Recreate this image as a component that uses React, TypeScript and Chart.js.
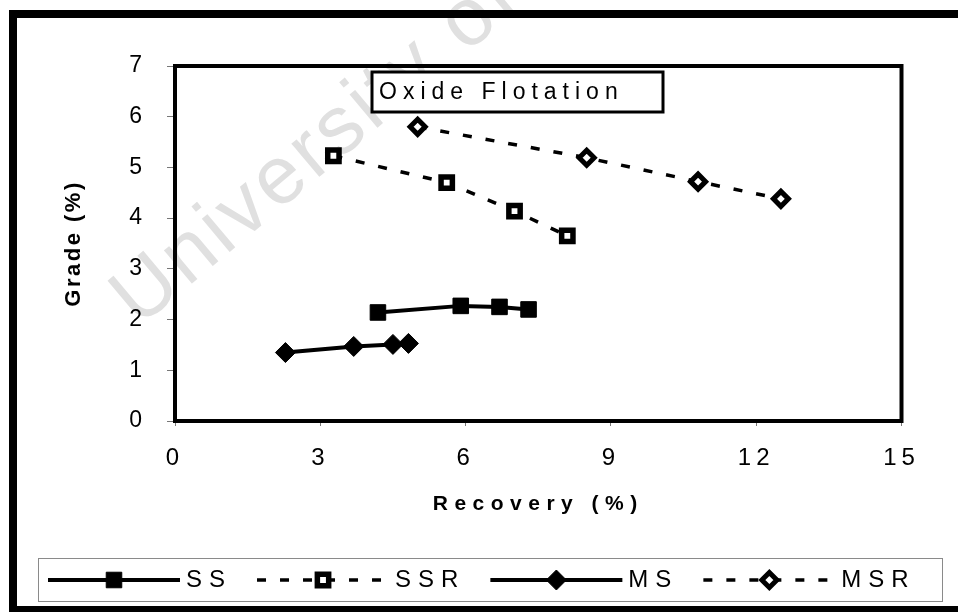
import { useEffect, useRef } from 'react';
import { Chart, registerables } from 'chart.js';
import { drawPoint } from 'chart.js/helpers';

Chart.register(...registerables);

// Oxide flotation: grade vs recovery for the four reagent schemes
const seriesLabels = ['SS', 'SSR', 'MS', 'MSR'];

const ssRecovery = [4.19, 5.9, 6.7, 7.3];
const ssGrade = [2.14, 2.27, 2.25, 2.2];

const ssrRecovery = [3.27, 5.61, 7.01, 8.1];
const ssrGrade = [5.23, 4.7, 4.14, 3.65];

const msRecovery = [2.28, 3.69, 4.5, 4.82];
const msGrade = [1.35, 1.47, 1.51, 1.53];

const msrRecovery = [5.01, 8.5, 10.8, 12.51];
const msrGrade = [5.8, 5.19, 4.72, 4.38];

const recoveryTicks = [0, 3, 6, 9, 12, 15];
const gradeTicks = [0, 1, 2, 3, 4, 5, 6, 7];

const chartTitle = 'Oxide Flotation';
const xTitle = 'Recovery (%)';
const yTitle = 'Grade (%)';
const watermark = 'University of Cape Town';

const FONT = "'Liberation Sans', Arial, sans-serif";

const recoveries = [ssRecovery, ssrRecovery, msRecovery, msrRecovery];
const grades = [ssGrade, ssrGrade, msGrade, msrGrade];

const seriesStyles = [
  { dash: [] as number[], width: 4, point: 'rect', radius: 11, fill: '#000', pointBorder: 1 },
  { dash: [9, 14], width: 3.5, point: 'rect', radius: 8, fill: '#fff', pointBorder: 5.5 },
  { dash: [] as number[], width: 4, point: 'rectRot', radius: 10, fill: '#000', pointBorder: 1 },
  { dash: [9, 14], width: 3.5, point: 'rectRot', radius: 7.5, fill: '#fff', pointBorder: 5 },
];

// Wrap a scale drawing method so its text is drawn with extra letter spacing
function withSpacing(scale: any, method: string, spacing: string) {
  if (!scale) return;
  const flag = '__spaced_' + method;
  if (scale[flag]) return;
  const original = scale[method];
  scale[method] = function (...args: any[]) {
    const c = this.ctx;
    c.save();
    c.letterSpacing = spacing;
    original.apply(this, args);
    c.restore();
  };
  scale[flag] = true;
}

const spacedScaleText = {
  id: 'spacedScaleText',
  beforeDraw(chart: any) {
    withSpacing(chart.scales.x, 'drawLabels', '5px');
    withSpacing(chart.scales.x, 'drawTitle', '6.5px');
    withSpacing(chart.scales.y, 'drawTitle', '2.5px');
  },
};

const watermarkPlugin = {
  id: 'watermark',
  beforeDraw(chart: any) {
    const { ctx } = chart;
    ctx.save();
    ctx.translate(139, 328);
    ctx.rotate((-40 * Math.PI) / 180);
    ctx.font = `82px ${FONT}`;
    ctx.letterSpacing = '4px';
    ctx.fillStyle = '#e0e0e0';
    ctx.textBaseline = 'alphabetic';
    ctx.textAlign = 'left';
    ctx.fillText(watermark, 0, 0);
    ctx.restore();
  },
};

const plotFrame = {
  id: 'plotFrame',
  beforeDatasetsDraw(chart: any) {
    const { ctx, chartArea: a } = chart;
    ctx.save();
    ctx.strokeStyle = '#000';
    ctx.lineWidth = 4;
    ctx.strokeRect(a.left, a.top, a.right - a.left, a.bottom - a.top);
    ctx.restore();
  },
};

const titleBox = {
  id: 'titleBox',
  afterDraw(chart: any) {
    const { ctx, chartArea: a } = chart;
    const left = a.left + 197;
    const top = a.top + 6;
    const w = 291;
    const h = 40;
    ctx.save();
    ctx.fillStyle = '#fff';
    ctx.fillRect(left, top, w, h);
    ctx.strokeStyle = '#000';
    ctx.lineWidth = 3;
    ctx.strokeRect(left, top, w, h);
    ctx.font = `23px ${FONT}`;
    ctx.letterSpacing = '6px';
    ctx.fillStyle = '#000';
    ctx.textBaseline = 'middle';
    ctx.textAlign = 'left';
    ctx.fillText(chartTitle, left + 7, top + h / 2 + 1);
    ctx.restore();
  },
};

const lineLegend = {
  id: 'lineLegend',
  afterDraw(chart: any) {
    const { ctx } = chart;
    const boxLeft = 38;
    const boxTop = 558;
    const boxRight = 942;
    const boxBottom = 601;
    const y = 580;
    const sample = 132;
    ctx.save();
    ctx.strokeStyle = '#8a8a8a';
    ctx.lineWidth = 1;
    ctx.strokeRect(boxLeft + 0.5, boxTop + 0.5, boxRight - boxLeft, boxBottom - boxTop);
    ctx.font = `24px ${FONT}`;
    ctx.letterSpacing = '7px';
    ctx.textBaseline = 'middle';
    ctx.textAlign = 'left';
    let x = 48;
    chart.data.datasets.forEach((ds: any) => {
      ctx.strokeStyle = '#000';
      ctx.setLineDash(ds.borderDash || []);
      ctx.lineWidth = ds.borderWidth;
      ctx.beginPath();
      ctx.moveTo(x, y);
      ctx.lineTo(x + sample, y);
      ctx.stroke();
      ctx.setLineDash([]);
      ctx.fillStyle = ds.pointBackgroundColor;
      ctx.lineWidth = ds.pointBorderWidth;
      drawPoint(
        ctx,
        { pointStyle: ds.pointStyle, rotation: 0, radius: ds.pointRadius, borderWidth: ds.pointBorderWidth },
        x + sample / 2,
        y
      );
      ctx.fillStyle = '#000';
      ctx.fillText(ds.label, x + sample + 6, y);
      x += sample + 6 + ctx.measureText(ds.label).width + 25;
    });
    ctx.restore();
  },
};

const outerFrame = {
  id: 'outerFrame',
  afterDraw(chart: any) {
    const { ctx, width, height } = chart;
    ctx.save();
    ctx.fillStyle = '#000';
    ctx.fillRect(9, 10, width - 9, 8);
    ctx.fillRect(9, 10, 8, height - 10);
    ctx.fillRect(9, height - 6, width - 9, 6);
    ctx.restore();
  },
};

export default function App() {
  const canvasRef = useRef<HTMLCanvasElement | null>(null);

  useEffect(() => {
    document.body.style.margin = '0';
    const canvas = canvasRef.current;
    if (!canvas) return;

    const datasets = seriesLabels.map((label, i) => {
      const s = seriesStyles[i];
      return {
        label,
        data: recoveries[i].map((x, j) => ({ x, y: grades[i][j] })),
        showLine: true,
        borderColor: '#000',
        borderWidth: s.width,
        borderDash: s.dash,
        borderCapStyle: 'butt',
        tension: 0,
        pointStyle: s.point,
        pointRadius: s.radius,
        pointBackgroundColor: s.fill,
        pointBorderColor: '#000',
        pointBorderWidth: s.pointBorder,
      };
    });

    const chart = new Chart(canvas, {
      type: 'line',
      data: { datasets } as any,
      options: {
        responsive: false,
        animation: false,
        events: [],
        layout: { padding: { left: 24, top: 66, right: 56.5, bottom: 87 } },
        plugins: {
          legend: { display: false },
          tooltip: { enabled: false },
          title: { display: false },
        },
        scales: {
          x: {
            type: 'linear',
            min: 0,
            max: 15,
            afterBuildTicks: (scale: any) => {
              scale.ticks = recoveryTicks.map((value) => ({ value }));
            },
            afterFit: (scale: any) => {
              scale.height = 104;
            },
            ticks: {
              color: '#000',
              font: { family: FONT, size: 24 },
              padding: 18,
              maxRotation: 0,
              autoSkip: false,
            },
            grid: {
              display: true,
              drawOnChartArea: false,
              drawTicks: true,
              tickLength: 5,
              tickColor: '#777',
              tickWidth: 1,
            },
            border: { display: false },
            title: {
              display: true,
              text: xTitle,
              color: '#000',
              font: { family: FONT, size: 21, weight: 'bold' },
              padding: { top: 0, bottom: 8 },
            },
          },
          y: {
            type: 'linear',
            min: 0,
            max: 7,
            afterBuildTicks: (scale: any) => {
              scale.ticks = gradeTicks.map((value) => ({ value }));
            },
            afterFit: (scale: any) => {
              scale.width = 151;
            },
            ticks: {
              color: '#000',
              font: { family: FONT, size: 23 },
              padding: 25,
              autoSkip: false,
            },
            grid: {
              display: true,
              drawOnChartArea: false,
              drawTicks: true,
              tickLength: 8,
              tickColor: '#777',
              tickWidth: 1,
            },
            border: { display: false },
            title: {
              display: true,
              text: yTitle,
              color: '#000',
              font: { family: FONT, size: 22, weight: 'bold' },
              padding: { top: 37, bottom: 0 },
            },
          },
        },
      } as any,
      plugins: [spacedScaleText, watermarkPlugin, plotFrame, titleBox, lineLegend, outerFrame],
    });

    return () => chart.destroy();
  }, []);

  return (
    <div style={{ width: 958, height: 612, position: 'relative', background: '#fff' }}>
      <canvas ref={canvasRef} width={958} height={612} style={{ display: 'block' }} />
    </div>
  );
}
